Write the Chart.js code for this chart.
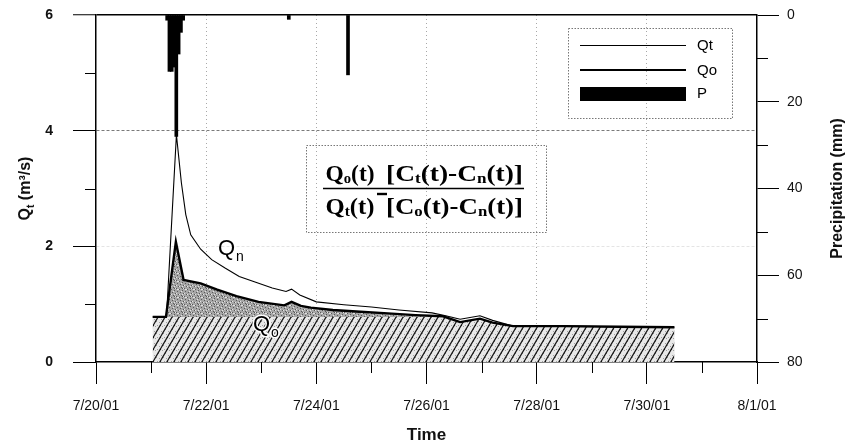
<!DOCTYPE html>
<html><head><meta charset="utf-8">
<script src="https://cdn.jsdelivr.net/npm/chart.js@4.4.1/dist/chart.umd.min.js"></script>
<style>html,body{margin:0;padding:0;background:#fff}#wrap{width:851px;height:448px;position:relative}</style>
</head><body><div id="wrap"><canvas id="c" width="851" height="448"></canvas></div>
<script>
// ---- data (x = days after 7/20/01 00:00) ----
const xTickLabels = ['7/20/01','7/22/01','7/24/01','7/26/01','7/28/01','7/30/01','8/1/01'];
const qtDays = [1.03,1.28,1.46,1.55,1.63,1.72,1.9,2.1,2.35,2.6,2.9,3.2,3.45,3.55,3.7,4.0,4.5,5.0,5.5,6.1,6.35,6.61,6.97,7.2,7.57,8.5,9.5,10.5];
const qtVals = [0.78,0.78,3.93,3.1,2.55,2.2,1.95,1.77,1.62,1.48,1.38,1.28,1.22,1.26,1.16,1.04,0.99,0.95,0.9,0.85,0.8,0.74,0.8,0.72,0.62,0.62,0.61,0.6];
const qoDays = [1.03,1.27,1.45,1.59,1.9,2.2,2.55,2.95,3.25,3.42,3.55,3.72,3.9,4.3,4.8,5.3,5.8,6.3,6.61,6.97,7.2,7.57,8.5,9.5,10.5];
const qoVals = [0.78,0.78,2.08,1.42,1.36,1.25,1.14,1.04,1.0,0.98,1.04,0.97,0.94,0.9,0.87,0.84,0.81,0.79,0.69,0.75,0.68,0.62,0.62,0.61,0.6];
const baseDays = [1.03,6.3,6.61,6.97,7.2,7.57,8.5,9.5,10.5];
const baseVals = [0.78,0.78,0.69,0.74,0.68,0.62,0.62,0.61,0.6];
const precipDays = [1.292,1.333,1.375,1.417,1.458,1.5,1.542,1.583,3.5,4.575];
const precipMM   = [1.2,13,13,12,28,9,4,1.2,1,13.8];
const xMinorTicks = [1,3,5,7,9,11];
const yMinorTicks = [1,3,5];
const y1MinorTicks = [10,30,50,70];

const pts = (xs, ys) => xs.map((x,i)=>({x, y: ys[i]}));

const canvas = document.getElementById('c');
const mctx = canvas.getContext('2d');

function stipplePattern(){
  const c=document.createElement('canvas'); c.width=8; c.height=8;
  const g=c.getContext('2d');
  g.fillStyle='#a6a6a6'; g.fillRect(0,0,8,8);
  g.fillStyle='#585858';
  [[0,0],[3,1],[6,2],[1,3],[4,4],[7,5],[2,6],[5,7],[6,0]].forEach(p=>g.fillRect(p[0],p[1],1,1));
  g.fillStyle='#e2e2e2';
  [[2,1],[5,3],[0,5],[7,0],[3,6],[6,6],[1,1]].forEach(p=>g.fillRect(p[0],p[1],1,1));
  return mctx.createPattern(c,'repeat');
}
function hatchPattern(){
  const w=7,h=12;
  const c=document.createElement('canvas'); c.width=w; c.height=h;
  const g=c.getContext('2d');
  g.fillStyle='#e8e8e8'; g.fillRect(0,0,w,h);
  g.fillStyle='#a0a0a0';
  [[1,2],[4,5],[2,9],[5,10],[0,7],[3,1]].forEach(p=>g.fillRect(p[0],p[1],1,1));
  g.strokeStyle='#111'; g.lineWidth=1.2;
  for(const dx of [-w,0,w]) for(const dy of [-h,0,h]){
    g.beginPath(); g.moveTo(dx,dy+h); g.lineTo(dx+w,dy); g.stroke();
  }
  return mctx.createPattern(c,'repeat');
}

Chart.defaults.font.family = '"Liberation Sans", Arial, sans-serif';
Chart.defaults.color = '#111';

function drawRuns(ctx, runs, cx, cy, targetW){
  let w=0; runs.forEach(r=>{ctx.font=r[1]; w+=ctx.measureText(r[0]).width;});
  const sx = targetW ? targetW/w : 1;
  ctx.save(); ctx.translate(cx,cy); ctx.scale(sx,1);
  ctx.textAlign='left'; ctx.textBaseline='alphabetic';
  let x=-w/2;
  runs.forEach(r=>{ctx.font=r[1]; ctx.fillText(r[0],x,r[2]); x+=ctx.measureText(r[0]).width;});
  ctx.restore();
}

const decor = {
  id:'decor',
  afterDatasetsDraw(chart){
    const ctx=chart.ctx;
    ctx.save();
    ctx.fillStyle='#000';
    ctx.textAlign='left'; ctx.textBaseline='alphabetic';
    // Q_n label
    ctx.font='22px "Liberation Sans", Arial';
    ctx.fillText('Q',218,255);
    let wq=ctx.measureText('Q').width;
    ctx.font='14px "Liberation Sans", Arial';
    ctx.fillText('n',218+wq+1,261);
    // Q_o label with white halo
    ctx.lineJoin='round';
    ctx.strokeStyle='#fff'; ctx.lineWidth=3;
    ctx.font='22px "Liberation Sans", Arial';
    ctx.strokeText('Q',253,331); ctx.fillText('Q',253,331);
    wq=ctx.measureText('Q').width;
    ctx.font='14px "Liberation Sans", Arial';
    ctx.strokeText('o',253+wq+1,337); ctx.fillText('o',253+wq+1,337);
    ctx.restore();
  },
  afterDraw(chart){
    const {ctx, scales:{x,y,y1}, chartArea:a} = chart;
    ctx.save();
    // minor ticks
    ctx.strokeStyle='#000'; ctx.lineWidth=1;
    ctx.beginPath();
    xMinorTicks.forEach(v=>{const p=Math.round(x.getPixelForValue(v))+0.5; ctx.moveTo(p,a.bottom); ctx.lineTo(p,a.bottom+11);});
    yMinorTicks.forEach(v=>{const p=Math.round(y.getPixelForValue(v))+0.5; ctx.moveTo(a.left-11,p); ctx.lineTo(a.left,p);});
    y1MinorTicks.forEach(v=>{const p=Math.round(y1.getPixelForValue(v))+0.5; ctx.moveTo(a.right,p); ctx.lineTo(a.right+11,p);});
    ctx.stroke();

    // legend
    ctx.setLineDash([1.5,1.5]); ctx.strokeStyle='#777'; ctx.lineWidth=1;
    ctx.strokeRect(568.5,28.5,164,90);
    ctx.setLineDash([]);
    ctx.strokeStyle='#000';
    ctx.lineWidth=1; ctx.beginPath(); ctx.moveTo(580,45.5); ctx.lineTo(686,45.5); ctx.stroke();
    ctx.lineWidth=2.2; ctx.beginPath(); ctx.moveTo(580,70); ctx.lineTo(686,70); ctx.stroke();
    ctx.fillStyle='#000'; ctx.fillRect(580,87,106,14);
    ctx.font='15px "Liberation Sans", Arial'; ctx.textAlign='left'; ctx.textBaseline='middle';
    ctx.fillText('Qt',697,46); ctx.fillText('Qo',697,71); ctx.fillText('P',697,94);

    // equation box
    ctx.setLineDash([1.5,1.5]); ctx.strokeStyle='#777'; ctx.lineWidth=1;
    ctx.strokeRect(306.5,145.5,240,87);
    ctx.setLineDash([]);
    const EQ='bold 24px "Liberation Serif", "Times New Roman", serif';
    const EQS='bold 15px "Liberation Serif", "Times New Roman", serif';
    ctx.fillStyle='#000';
    drawRuns(ctx,[['Q',EQ,0],['o',EQS,2],['(t)',EQ,0]],350,181,49);
    drawRuns(ctx,[['Q',EQ,0],['t',EQS,2],['(t)',EQ,0]],350,214,49);
    drawRuns(ctx,[['[C',EQ,0],['t',EQS,2],['(t)-C',EQ,0],['n',EQS,2],['(t)]',EQ,0]],454.5,181,137);
    drawRuns(ctx,[['[C',EQ,0],['o',EQS,2],['(t)-C',EQ,0],['n',EQS,2],['(t)]',EQ,0]],454.5,214,137);
    ctx.strokeStyle='#000'; ctx.lineWidth=1.6;
    ctx.beginPath(); ctx.moveTo(323,188.5); ctx.lineTo(524,188.5); ctx.stroke();
    ctx.lineWidth=2.4;
    ctx.beginPath(); ctx.moveTo(377,194); ctx.lineTo(387,194); ctx.stroke();

    // left axis title
    ctx.save();
    ctx.translate(24,(a.top+a.bottom)/2); ctx.rotate(-Math.PI/2);
    ctx.fillStyle='#111';
    drawRuns(ctx,[['Q','bold 16px "Liberation Sans", Arial',0],['t','bold 10px "Liberation Sans", Arial',4],[' (m\u00B3/s)','bold 16px "Liberation Sans", Arial',0]],0,6,0);
    ctx.restore();
    // right axis title
    ctx.save();
    ctx.translate(838,(a.top+a.bottom)/2); ctx.rotate(-Math.PI/2);
    ctx.fillStyle='#111'; ctx.font='bold 16px "Liberation Sans", Arial';
    ctx.textAlign='center'; ctx.textBaseline='middle';
    ctx.fillText('Precipitation (mm)',0,0);
    ctx.restore();
    ctx.restore();
  }
};

new Chart(canvas, {
  type:'line',
  data:{
    datasets:[
      {type:'bar', label:'P', data:pts(precipDays,precipMM), yAxisID:'y1', xAxisID:'x',
       backgroundColor:'#000', borderWidth:0, barThickness:3, order:0},
      {label:'Qt', data:pts(qtDays,qtVals), yAxisID:'y', borderColor:'#000', borderWidth:1.1,
       pointRadius:0, fill:false, tension:0, order:1},
      {label:'base', data:pts(baseDays,baseVals), yAxisID:'y', borderWidth:0, borderColor:'rgba(0,0,0,0)',
       pointRadius:0, fill:'origin', backgroundColor:hatchPattern(), tension:0, order:2},
      {label:'Qo', data:pts(qoDays,qoVals), yAxisID:'y', borderColor:'#000', borderWidth:2.4,
       pointRadius:0, fill:'origin', backgroundColor:stipplePattern(), tension:0, order:3}
    ]
  },
  options:{
    responsive:false, animation:false,
    layout:{padding:{top:15,left:0,right:0,bottom:0}, autoPadding:false},
    plugins:{legend:{display:false}, tooltip:{enabled:false}, filler:{drawTime:'beforeDatasetsDraw'}},
    scales:{
      x:{type:'linear', min:0, max:12, offset:false,
        ticks:{stepSize:2, autoSkip:false, maxRotation:0, padding:14, font:{size:14}, color:'#111',
          callback:(v)=>xTickLabels[Math.round(v/2)]},
        grid:{offset:false, color:(c)=>(c.tick && (c.tick.value===0||c.tick.value===12))?'rgba(0,0,0,0)':'#a8a8a8',
          tickColor:'#000', tickLength:22, tickWidth:1, lineWidth:1},
        border:{color:'#000', width:1.5, dash:[1,3]},
        title:{display:true, text:'Time', font:{size:17, weight:'bold'}, color:'#111', padding:{top:0,bottom:2}},
        afterFit(s){s.height=86; s.paddingLeft=0; s.paddingRight=0;}
      },
      y:{type:'linear', position:'left', min:0, max:6,
        ticks:{stepSize:2, padding:20, font:{size:14, weight:'bold'}, color:'#111'},
        grid:{color:(c)=>{const v=c.tick?c.tick.value:null; return v===6?'#000':v===4?'#7a7a7a':v===2?'#e4e4e4':'rgba(0,0,0,0)';},
          lineWidth:(c)=>(c.tick&&c.tick.value===6)?1.5:1,
          tickColor:'#000', tickLength:23, tickWidth:1},
        border:{color:'#000', width:1.5, dash:(c)=>(c.tick&&c.tick.value===6)?[]:[3,2]},
        afterFit(s){s.width=96; s.paddingTop=0; s.paddingBottom=0;}
      },
      y1:{type:'linear', position:'right', min:0, max:80, reverse:true,
        ticks:{stepSize:20, padding:8, font:{size:14}, color:'#111'},
        grid:{drawOnChartArea:false, offset:false, tickColor:'#000', tickLength:22, tickWidth:1},
        border:{color:'#000', width:1.5},
        afterFit(s){s.width=94; s.paddingTop=0; s.paddingBottom=0;}
      }
    }
  },
  plugins:[decor]
});
</script>
</body></html>
